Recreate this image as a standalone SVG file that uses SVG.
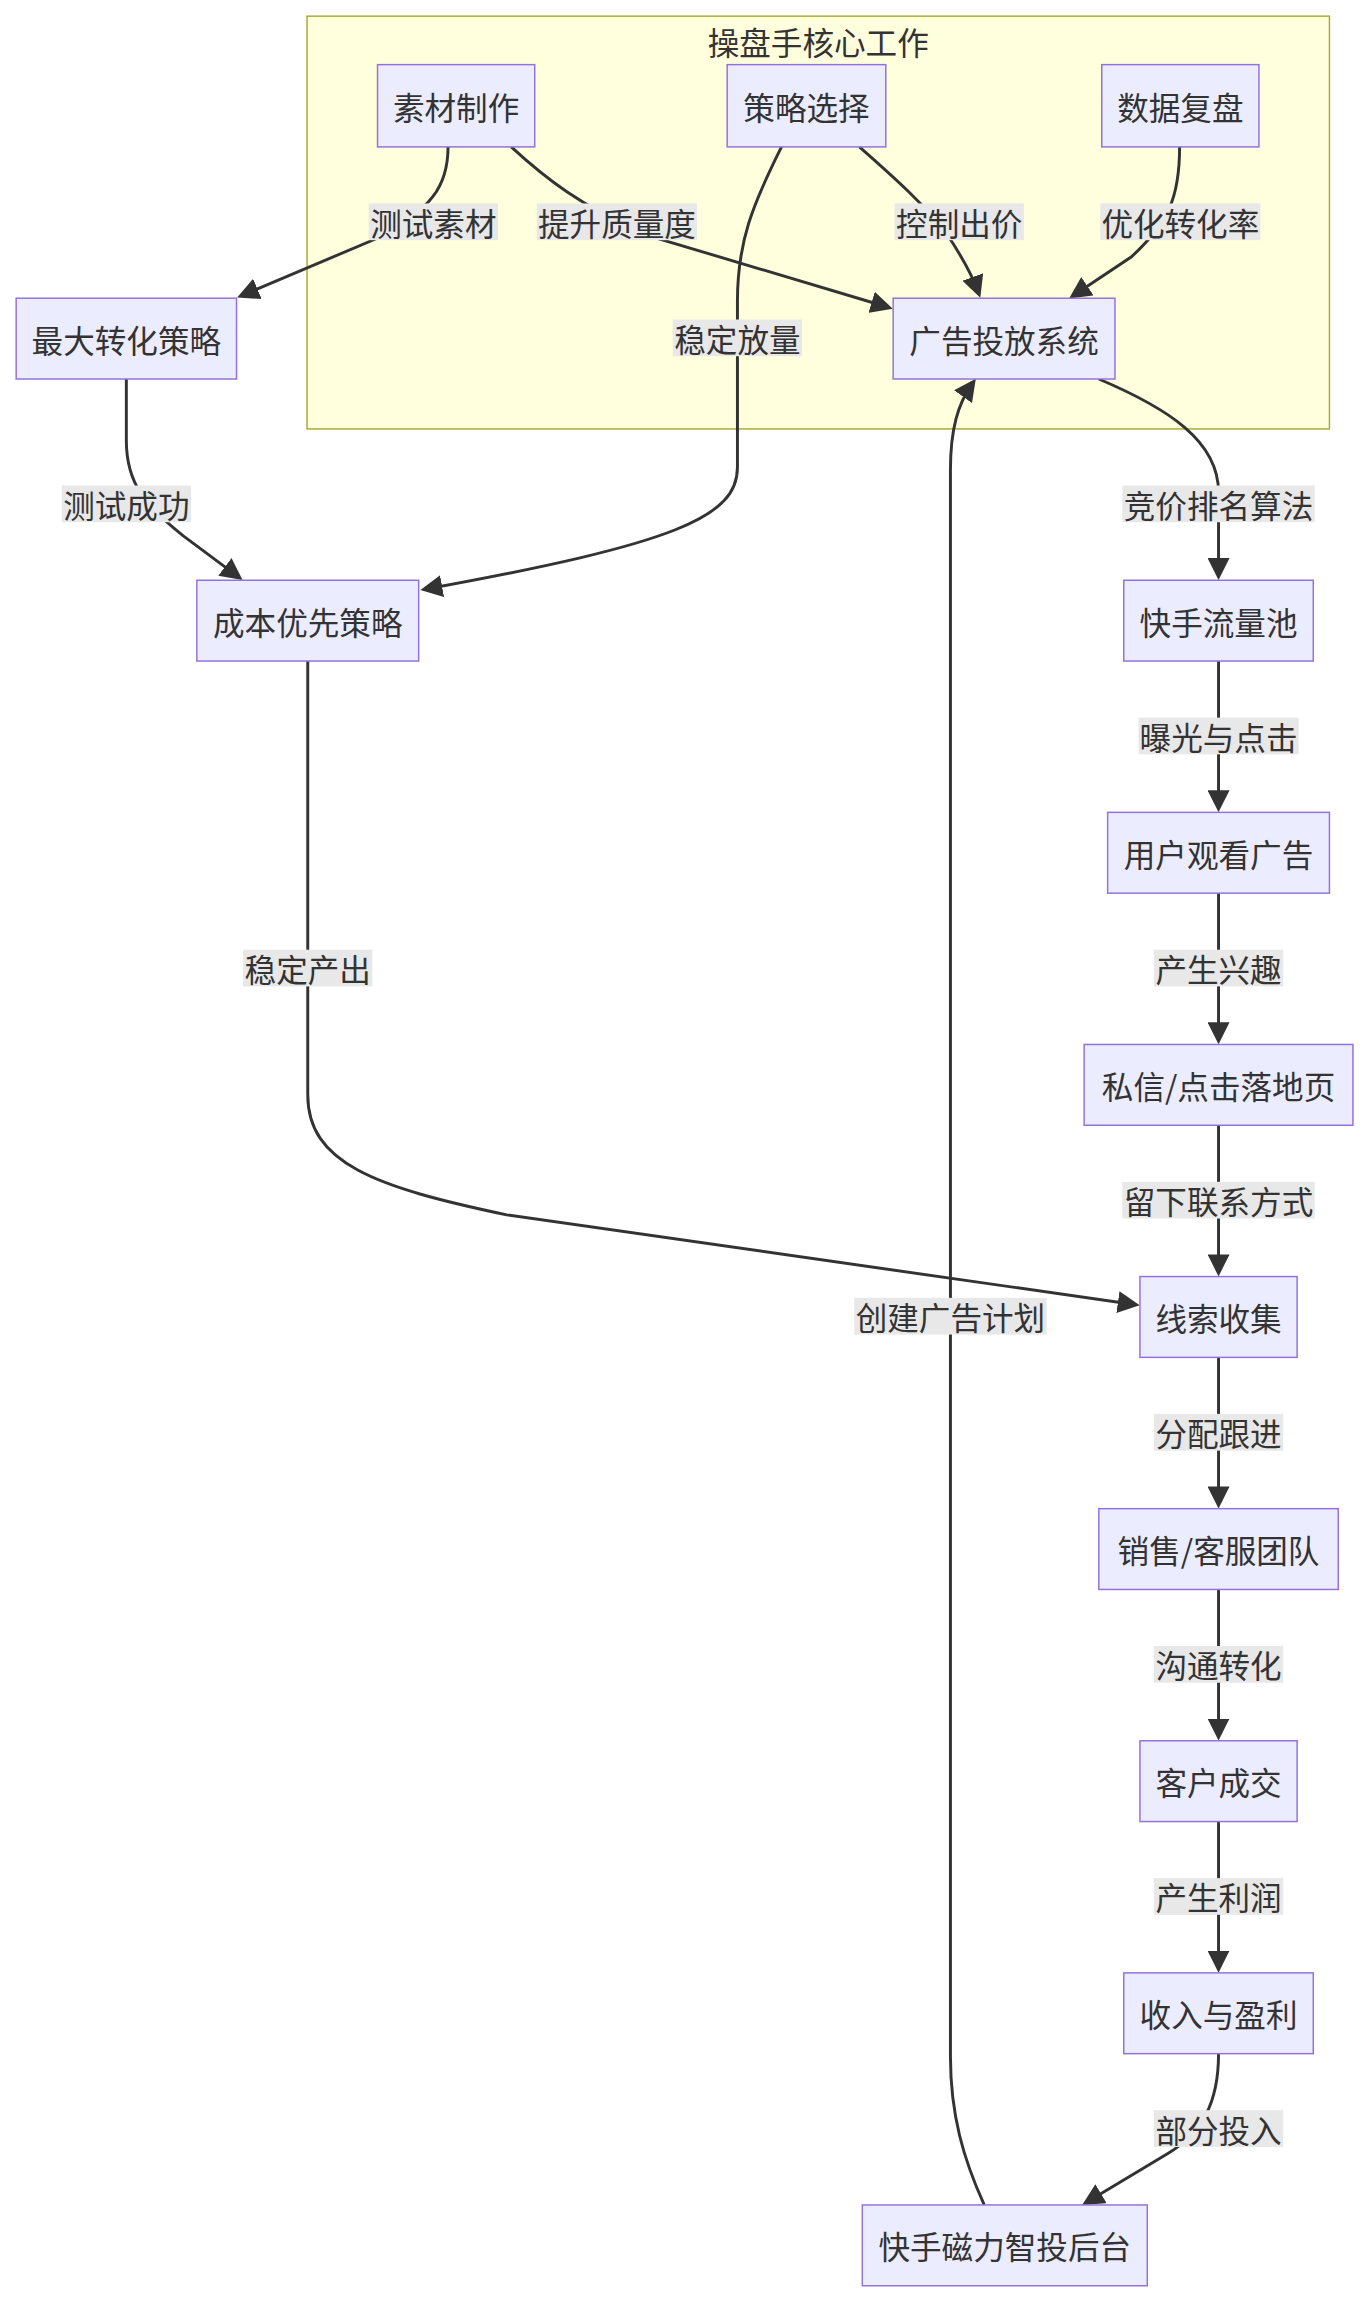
<svg xmlns="http://www.w3.org/2000/svg" width="1372" height="2306" viewBox="0 0 1372 2306">
<style>
.node rect{fill:#ECECFF;stroke:#9370DB;stroke-width:1}
.cluster rect{fill:#ffffde;stroke:#aaaa33;stroke-width:1}
text{font-family:"Noto Sans CJK SC","Noto Sans",sans-serif;font-size:21.5px;fill:#333;text-anchor:middle;dominant-baseline:central}
.edge{fill:none;stroke:#333;stroke-width:2}
.lbl rect{fill:#e8e8e8;stroke:none}
</style>
<defs>
<marker id="arrow" viewBox="0 0 10 10" refX="7.4" refY="5" markerWidth="7.5" markerHeight="7.5" markerUnits="strokeWidth" orient="auto">
<path d="M0,0 L10,5 L0,10 z" fill="#333"/>
</marker>
</defs>
<rect x="0" y="0" width="1372" height="2306" fill="#ffffff"/>
<g transform="scale(1.469)">
<g id="cluster-core" class="cluster">
<rect x="209" y="11" width="696" height="281"/>
<text x="557" y="28">操盘手核心工作</text>
</g>
<g id="connectors">
<path class="edge" marker-end="url(#arrow)" d="M305,100 C305,128 292,142 262,160 L165,201"/>
<path class="edge" marker-end="url(#arrow)" d="M348,100 C372,122 395,140 440,160 L604,209"/>
<path class="edge" marker-end="url(#arrow)" d="M532,100 C512,140 502,165 502,205 L502,318 C502,352 460,370 290,401"/>
<path class="edge" marker-end="url(#arrow)" d="M585,100 C610,122 630,140 645,160 C655,175 662,188 666,199"/>
<path class="edge" marker-end="url(#arrow)" d="M803,100 C803,135 795,152 770,175 L731,201"/>
<path class="edge" marker-end="url(#arrow)" d="M748,258 C795,278 829.5,300 829.5,335 L829.5,391"/>
<path class="edge" marker-end="url(#arrow)" d="M829.5,450 L829.5,549"/>
<path class="edge" marker-end="url(#arrow)" d="M829.5,608 L829.5,707"/>
<path class="edge" marker-end="url(#arrow)" d="M829.5,766 L829.5,865"/>
<path class="edge" marker-end="url(#arrow)" d="M829.5,924 L829.5,1023"/>
<path class="edge" marker-end="url(#arrow)" d="M829.5,1082 L829.5,1181"/>
<path class="edge" marker-end="url(#arrow)" d="M829.5,1240 L829.5,1339"/>
<path class="edge" marker-end="url(#arrow)" d="M829.5,1398 C829.5,1432 818,1452 795,1466 L740,1499"/>
<path class="edge" marker-end="url(#arrow)" d="M670,1501 C656,1470 647,1440 647,1400 L647,320 C647,292 652,275 662,261"/>
<path class="edge" marker-end="url(#arrow)" d="M86,258 L86,300 C86,330 100,345 125,365 L162,392.5"/>
<path class="edge" marker-end="url(#arrow)" d="M209.5,450 L209.5,745 C209.5,792 255,808 345,827 L772,888"/>
</g>
<g id="edge-labels" class="lbl">
<rect x="251" y="138.5" width="88" height="25"/><text x="295" y="151">测试素材</text>
<rect x="365.5" y="138.5" width="109" height="25"/><text x="420" y="151">提升质量度</text>
<rect x="609" y="138.5" width="88" height="25"/><text x="653" y="151">控制出价</text>
<rect x="749" y="138.5" width="109" height="25"/><text x="803.5" y="151">优化转化率</text>
<rect x="458" y="217.5" width="88" height="25"/><text x="502" y="230">稳定放量</text>
<rect x="42" y="330.5" width="88" height="25"/><text x="86" y="343">测试成功</text>
<rect x="764" y="330.5" width="131" height="25"/><text x="829.5" y="343">竞价排名算法</text>
<rect x="775" y="488.5" width="109" height="25"/><text x="829.5" y="501">曝光与点击</text>
<rect x="785.5" y="646.5" width="88" height="25"/><text x="829.5" y="659">产生兴趣</text>
<rect x="764" y="804.5" width="131" height="25"/><text x="829.5" y="817">留下联系方式</text>
<rect x="785.5" y="962.5" width="88" height="25"/><text x="829.5" y="975">分配跟进</text>
<rect x="785.5" y="1120.5" width="88" height="25"/><text x="829.5" y="1133">沟通转化</text>
<rect x="785.5" y="1278.5" width="88" height="25"/><text x="829.5" y="1291">产生利润</text>
<rect x="785.5" y="1436.5" width="88" height="25"/><text x="829.5" y="1449">部分投入</text>
<rect x="165.5" y="646.5" width="88" height="25"/><text x="209.5" y="659">稳定产出</text>
<rect x="581.5" y="883.5" width="131" height="25"/><text x="647" y="896">创建广告计划</text>
</g>
<g id="n-sucai" class="node"><rect x="257" y="44" width="107" height="56"/><text x="310.5" y="72">素材制作</text></g>
<g id="n-celue" class="node"><rect x="495" y="44" width="108" height="56"/><text x="549" y="72">策略选择</text></g>
<g id="n-shuju" class="node"><rect x="750" y="44" width="107" height="56"/><text x="803.5" y="72">数据复盘</text></g>
<g id="n-guanggao" class="node"><rect x="608" y="203" width="151" height="55"/><text x="683.5" y="230.5">广告投放系统</text></g>
<g id="n-zuida" class="node"><rect x="11" y="203" width="150" height="55"/><text x="86" y="230.5">最大转化策略</text></g>
<g id="n-chengben" class="node"><rect x="134" y="395" width="151" height="55"/><text x="209.5" y="422.5">成本优先策略</text></g>
<g id="n-liuliang" class="node"><rect x="765" y="395" width="129" height="55"/><text x="829.5" y="422.5">快手流量池</text></g>
<g id="n-guankan" class="node"><rect x="754" y="553" width="151" height="55"/><text x="829.5" y="580.5">用户观看广告</text></g>
<g id="n-sixin" class="node"><rect x="738" y="711" width="183" height="55"/><text x="829.5" y="738.5">私信/点击落地页</text></g>
<g id="n-xiansuo" class="node"><rect x="776" y="869" width="107" height="55"/><text x="829.5" y="896.5">线索收集</text></g>
<g id="n-xiaoshou" class="node"><rect x="748" y="1027" width="163" height="55"/><text x="829.5" y="1054.5">销售/客服团队</text></g>
<g id="n-chengjiao" class="node"><rect x="776" y="1185" width="107" height="55"/><text x="829.5" y="1212.5">客户成交</text></g>
<g id="n-shouru" class="node"><rect x="765" y="1343" width="129" height="55"/><text x="829.5" y="1370.5">收入与盈利</text></g>
<g id="n-cili" class="node"><rect x="587" y="1501" width="194" height="55"/><text x="684" y="1528.5">快手磁力智投后台</text></g>
</g>
</svg>
